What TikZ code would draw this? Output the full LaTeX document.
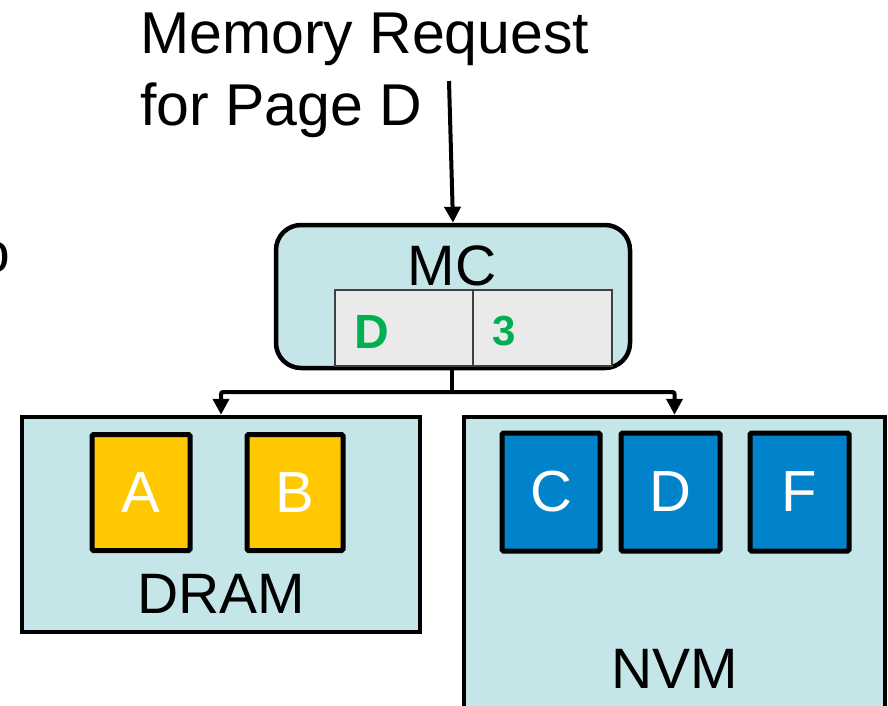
\documentclass[tikz,border=0pt]{standalone}
\usepackage{fontspec}
\setmainfont{Liberation Sans}
\usetikzlibrary{arrows.meta}

\definecolor{memfill}{HTML}{C5E6E8}
\definecolor{cellfill}{HTML}{EAEAEA}
\definecolor{cellline}{HTML}{404040}
\definecolor{dramfill}{HTML}{FFC800}
\definecolor{nvmfill}{HTML}{0083CA}
\definecolor{hitgreen}{HTML}{00B050}

\tikzset{
  unit/.style={draw=black, line width=4.5pt, fill=memfill, inner sep=0pt},
  page/.style={draw=black, line width=5pt, rounded corners=1.5pt, inner sep=0pt,
    minimum height=116pt, text=white, font=\fontsize{58}{60}\selectfont},
  cell/.style={draw=cellline, line width=2pt, fill=cellfill, inner sep=0pt,
    minimum height=76pt},
  bigtext/.style={inner sep=0pt, font=\fontsize{57}{72}\selectfont},
  conn/.style={line width=4pt, -{Triangle[length=16pt,width=16pt]}}
}

\begin{document}
\begin{tikzpicture}[x=1pt,y=-1pt]
  \useasboundingbox (0,0) rectangle (888,705);
  \clip (0,0) rectangle (888,705);

  % request caption (anchored on the baseline of its last line)
  \node[inner sep=0pt, font=\fontsize{59}{72}\selectfont, anchor=base west,
    align=left] (req) at (140,125) {Memory Request\\for Page D};
  \coordinate (reqstart) at (449,81);

  % partly visible text at the left edge
  \node[bigtext, anchor=base east] (edge) at (10,272) {o};

  % memory controller
  \node[unit, rounded corners=25pt, minimum width=354pt, minimum height=143pt]
    (mc) at (453,296.5) {};
  \node[bigtext, anchor=base] (mclabel) at (452,285) {MC};
  \node[cell, minimum width=138pt] (tag) at (404,328) {};
  \node[cell, minimum width=139pt] (cnt) at (542.5,328) {};
  \node[inner sep=0pt, anchor=base west, text=hitgreen,
    font=\fontsize{48}{50}\selectfont\bfseries] (tagval) at (354,348) {D};
  \node[inner sep=0pt, anchor=base west, text=hitgreen,
    font=\fontsize{42}{44}\selectfont\bfseries] (cntval) at (492,345) {3};

  % DRAM module
  \node[unit, minimum width=398pt, minimum height=215pt] (dram) at (221,524.5) {};
  \node[page, fill=dramfill, minimum width=98pt] (pa) at (141,492.5) {A};
  \node[page, fill=dramfill, minimum width=96pt] (pb) at (295,492.5) {B};
  \node[bigtext, anchor=base] (dramlabel) at (221,613) {DRAM};

  % NVM module (runs past the bottom edge)
  \node[unit, minimum width=421pt, minimum height=303pt] (nvm) at (674.5,568.5) {};
  \node[page, fill=nvmfill, minimum width=98pt, minimum height=118pt] (pc) at (551,492) {C};
  \node[page, fill=nvmfill, minimum width=99pt, minimum height=118pt] (pd) at (670.5,492) {D};
  \node[page, fill=nvmfill, minimum width=99pt, minimum height=118pt] (pf) at (799.5,492) {F};
  \node[bigtext, anchor=base] (nvmlabel) at (675,688) {NVM};

  % connectors
  \draw[conn] (reqstart) -- (mc.north);
  \coordinate (split) at (452,392);
  \draw[line width=4pt] (mc.south -| split) -- (split);
  \draw[conn, rounded corners=2pt] (split) -| (dram.north);
  \draw[conn, rounded corners=2pt] (split) -| (nvm.north);
\end{tikzpicture}
\end{document}
